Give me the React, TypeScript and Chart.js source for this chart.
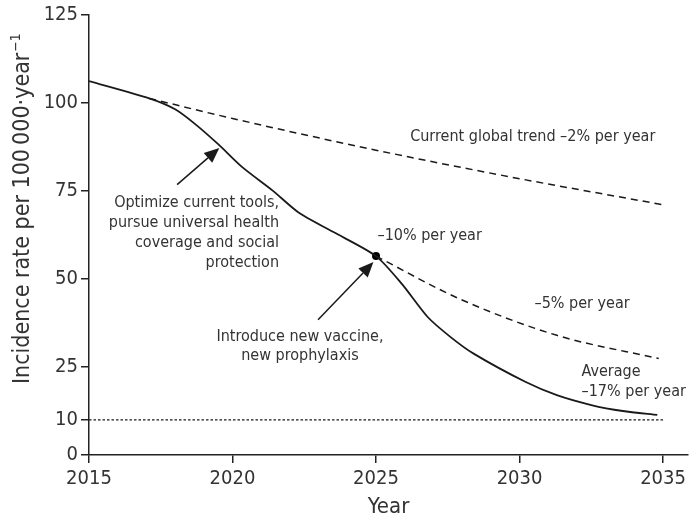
import React, { useEffect, useRef } from "react";
import { Chart, registerables } from "chart.js";

Chart.register(...registerables);

const FONT = '"DejaVu Sans Condensed", "DejaVu Sans", sans-serif';
const TEXT = "#333333";
const AXIS = "#222222";
const LINE = "#1a1a1a";

// ---- data ----
const xTicks = [2015, 2020, 2025, 2030, 2035];
const yTicks = [0, 10, 25, 50, 75, 100, 125];

const solidYears = [2015, 2017.1, 2018.0, 2018.7, 2019.5, 2020.35, 2021.4, 2022.3, 2023.5, 2025, 2025.9, 2026.8, 2027.6, 2028.4, 2030.2, 2031.3, 2032.5, 2033.6, 2034.8];
const solidValues = [106.2, 101.3, 98.2, 94.0, 88.3, 81.7, 75.1, 68.9, 63.4, 56.5, 48.6, 39.2, 33.5, 28.8, 20.8, 17.0, 14.2, 12.5, 11.4];

const trend2Years = [2017.1, 2020, 2025, 2030, 2035];
const trend2Values = [101.3, 95.6, 86.6, 78.5, 71.1];

const trend5Years = [2025, 2027.9, 2031.3, 2034.85];
const trend5Values = [56.5, 44.4, 34.0, 27.4];

const targetYears = [2015, 2035];
const targetValues = [10, 10];

const milestoneYears = [2025];
const milestoneValues = [56.5];

// ---- annotations (data coordinates) ----
const textNotes = [
  { lines: ["Optimize current tools,", "pursue universal health", "coverage and social", "protection"], x: 2021.62, y: 71.5, align: "right" },
  { lines: ["\u201310% per year"], x: 2025.05, y: 62.3, align: "left" },
  { lines: ["Current global trend \u20132% per year"], x: 2026.19, y: 90.4, align: "left" },
  { lines: ["\u20135% per year"], x: 2030.52, y: 43.0, align: "left" },
  { lines: ["Average", "\u201317% per year"], x: 2032.16, y: 23.6, align: "left" },
  { lines: ["Introduce new vaccine,", "new prophylaxis"], x: 2022.35, y: 33.7, align: "center" },
];

const arrowNotes = [
  { fromX: 2018.07, fromY: 76.8, toX: 2019.54, toY: 87.2 },
  { fromX: 2022.98, fromY: 38.4, toX: 2024.91, toY: 54.8 },
];

const yTitle = "Incidence rate per 100\u2009000\u00b7year";
const yTitleSup = "\u22121";
const xTitle = "Year";

const pts = (xs: number[], ys: number[]) => xs.map((x, i) => ({ x, y: ys[i] }));

const annotationPlugin = {
  id: "annotations",
  afterDatasetsDraw(chart: any) {
    const { ctx, scales } = chart;
    const xs = scales.x;
    const ys = scales.y;
    ctx.save();
    ctx.fillStyle = TEXT;
    ctx.textBaseline = "middle";
    ctx.font = `16px ${FONT}`;
    const lineH = 19.8;
    for (const n of textNotes) {
      ctx.textAlign = n.align;
      const px = xs.getPixelForValue(n.x);
      const py = ys.getPixelForValue(n.y);
      n.lines.forEach((l, i) => ctx.fillText(l, px, py + i * lineH));
    }
    // arrows
    ctx.strokeStyle = LINE;
    ctx.fillStyle = LINE;
    ctx.lineWidth = 1.5;
    for (const a of arrowNotes) {
      const x1 = xs.getPixelForValue(a.fromX);
      const y1 = ys.getPixelForValue(a.fromY);
      const x2 = xs.getPixelForValue(a.toX);
      const y2 = ys.getPixelForValue(a.toY);
      const ang = Math.atan2(y2 - y1, x2 - x1);
      const hl = 15;
      const hw = 6.5;
      const bx = x2 - hl * Math.cos(ang);
      const by = y2 - hl * Math.sin(ang);
      ctx.beginPath();
      ctx.moveTo(x1, y1);
      ctx.lineTo(bx, by);
      ctx.stroke();
      ctx.beginPath();
      ctx.moveTo(x2, y2);
      ctx.lineTo(bx + hw * Math.sin(ang), by - hw * Math.cos(ang));
      ctx.lineTo(bx - hw * Math.sin(ang), by + hw * Math.cos(ang));
      ctx.closePath();
      ctx.fill();
    }
    // axis titles
    ctx.fillStyle = TEXT;
    ctx.font = `23px ${FONT}`;
    const mainW = ctx.measureText(yTitle).width;
    ctx.font = `14px ${FONT}`;
    const supW = ctx.measureText(yTitleSup).width;
    const total = mainW + supW + 1;
    ctx.save();
    ctx.translate(23, ys.getPixelForValue(70));
    ctx.rotate(-Math.PI / 2);
    ctx.textAlign = "left";
    ctx.font = `23px ${FONT}`;
    ctx.fillText(yTitle, -total / 2, 0);
    ctx.font = `14px ${FONT}`;
    ctx.fillText(yTitleSup, -total / 2 + mainW + 1, -7);
    ctx.restore();
    ctx.font = `22px ${FONT}`;
    ctx.textAlign = "center";
    ctx.fillText(xTitle, (xs.left + xs.right) / 2, 507);
    ctx.restore();
  },
};

export default function App() {
  const ref = useRef<HTMLCanvasElement>(null);
  useEffect(() => {
    document.body.style.margin = "0";
    const canvas = ref.current!;
    const chart = new Chart(canvas, {
      type: "line",
      data: {
        datasets: [
          {
            data: pts(solidYears, solidValues),
            borderColor: LINE,
            borderWidth: 1.8,
            pointRadius: 0,
            tension: 0.25,
          },
          {
            data: pts(trend2Years, trend2Values),
            borderColor: LINE,
            borderWidth: 1.5,
            borderDash: [7, 5],
            pointRadius: 0,
            cubicInterpolationMode: "monotone",
          },
          {
            data: pts(trend5Years, trend5Values),
            borderColor: LINE,
            borderWidth: 1.5,
            borderDash: [7, 5],
            pointRadius: 0,
            cubicInterpolationMode: "monotone",
          },
          {
            data: pts(targetYears, targetValues),
            borderColor: LINE,
            borderWidth: 1.2,
            borderDash: [2.5, 2],
            pointRadius: 0,
          },
          {
            data: pts(milestoneYears, milestoneValues),
            showLine: false,
            pointRadius: 4,
            pointBackgroundColor: "#000",
            pointBorderColor: "#000",
            borderWidth: 0,
          },
        ],
      } as any,
      options: {
        animation: false,
        responsive: false,
        layout: { padding: { top: 13, right: 1, left: 0, bottom: 0 } },
        plugins: { legend: { display: false }, tooltip: { enabled: false } },
        scales: {
          x: {
            type: "linear",
            min: 2015,
            max: 2035.87,
            afterBuildTicks: (s: any) => {
              s.ticks = xTicks.map((v) => ({ value: v }));
            },
            afterFit: (s: any) => {
              s.height = 66;
            },
            ticks: {
              font: { family: FONT, size: 20 },
              color: TEXT,
              padding: 4,
              autoSkip: false,
              maxRotation: 0,
              callback: (v: any) => String(v),
            },
            grid: { display: true, drawOnChartArea: false, drawTicks: true, tickLength: 8, color: AXIS, tickColor: AXIS, lineWidth: 1.5 },
            border: { display: true, color: AXIS, width: 1.5 },
          },
          y: {
            type: "linear",
            min: 0,
            max: 125,
            afterBuildTicks: (s: any) => {
              s.ticks = yTicks.map((v) => ({ value: v }));
            },
            afterFit: (s: any) => {
              s.width = 89;
            },
            ticks: {
              font: { family: FONT, size: 20 },
              color: TEXT,
              padding: 3,
              autoSkip: false,
              callback: (v: any) => String(v),
            },
            grid: { display: true, drawOnChartArea: false, drawTicks: true, tickLength: 8, color: AXIS, tickColor: AXIS, lineWidth: 1.5 },
            border: { display: true, color: AXIS, width: 1.5 },
          },
        },
      } as any,
      plugins: [annotationPlugin],
    });
    return () => chart.destroy();
  }, []);
  return (
    <div style={{ position: "fixed", left: 0, top: 0, width: 692, height: 521, background: "#fff" }}>
      <canvas ref={ref} width={692} height={521} style={{ display: "block" }} />
    </div>
  );
}
